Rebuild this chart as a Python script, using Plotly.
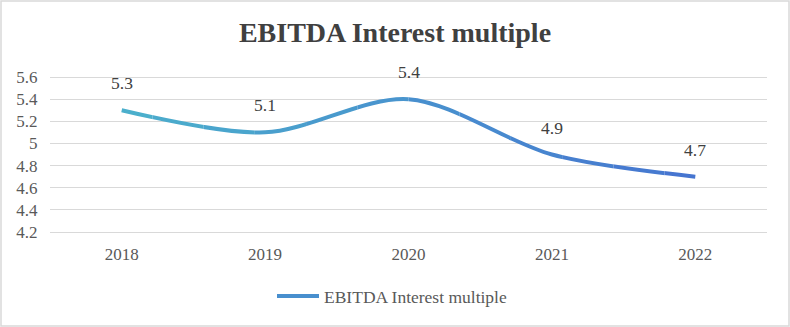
import plotly.graph_objects as go

years = ["2018", "2019", "2020", "2021", "2022"]
values = [5.3, 5.1, 5.4, 4.9, 4.7]
labels = ["5.3", "5.1", "5.4", "4.9", "4.7"]
y_ticks = [4.2, 4.4, 4.6, 4.8, 5.0, 5.2, 5.4, 5.6]
y_tick_text = ["4.2", "4.4", "4.6", "4.8", "5", "5.2", "5.4", "5.6"]

W, H = 790, 327
PAD = 2  # px of extra room so the edge gridlines are drawn
ml, mr, mt, mb = 50, 23, 77 - PAD, 95 - PAD
SERIF = "Liberation Serif"
C_LEFT = (75, 176, 204)
C_RIGHT = (70, 116, 208)
N_SEG = 14

n = len(years)
lo, hi = -0.5, n - 0.5
y0v, y1v = 4.2, 5.6
grid_px = 232 - 77
ext = PAD * (y1v - y0v) / grid_px


def grad(f):
    f = min(max(f, 0.0), 1.0)
    r, g, b = (round(a + (c - a) * f) for a, c in zip(C_LEFT, C_RIGHT))
    return f"rgb({r},{g},{b})"


fig = go.Figure()
fig.add_trace(go.Scatter(x=years, y=values, mode="markers", marker=dict(opacity=0),
                         xaxis="x", yaxis="y", showlegend=False, hoverinfo="skip"))

layout_axes = {}
for k in range(N_SEG):
    d0, d1 = k / N_SEG, (k + 1) / N_SEG
    r0, r1 = lo + (hi - lo) * d0, lo + (hi - lo) * d1
    mid = (r0 + r1) / 2
    col = grad(mid / (n - 1))
    idx = k + 2
    fig.add_trace(go.Scatter(
        x=years, y=values, mode="lines", xaxis=f"x{idx}", yaxis="y",
        name="EBITDA Interest multiple", showlegend=(k == N_SEG // 2), hoverinfo="skip",
        line=dict(color=col, width=4, shape="spline", smoothing=0.9),
    ))
    layout_axes[f"xaxis{idx}"] = dict(type="category", categoryorder="array", categoryarray=years,
                                      domain=[d0, d1], range=[r0, r1], anchor="y",
                                      visible=False, showgrid=False)

ann = []
for i, (yv, t) in enumerate(zip(values, labels)):
    ann.append(dict(x=i, y=yv, xref="x", yref="y", text=t, showarrow=False,
                    yshift=27, xanchor="center", yanchor="middle",
                    font=dict(family=SERIF, size=17.5, color="#404040")))

pw = W - ml - mr
ph = H - mt - mb

fig.update_layout(
    width=W, height=H,
    margin=dict(l=ml, r=mr, t=mt, b=mb),
    paper_bgcolor="white", plot_bgcolor="rgba(0,0,0,0)",
    annotations=ann,
    shapes=[dict(type="rect", xref="paper", yref="paper",
                 x0=-(ml - 1) / pw, x1=1 + (mr - 1) / pw,
                 y0=-(mb - 1) / ph, y1=1 + (mt - 1) / ph,
                 line=dict(color="#D9D9D9", width=1.5), layer="below")],
    title=dict(text="<b>EBITDA Interest multiple</b>", x=0.5, xref="container", xanchor="center",
               y=1 - 32 / H, yref="container", yanchor="middle",
               font=dict(family=SERIF, size=28, color="#404040")),
    font=dict(family=SERIF, size=17, color="#595959"),
    xaxis=dict(type="category", categoryorder="array", categoryarray=years,
               domain=[0, 1], range=[lo, hi], anchor="y", showgrid=False, showline=False,
               zeroline=False, ticks="outside", ticklen=3 + PAD, tickcolor="rgba(0,0,0,0)",
               tickfont=dict(family=SERIF, size=17, color="#595959")),
    yaxis=dict(range=[y0v - ext, y1v + ext], tickvals=y_ticks, ticktext=y_tick_text, anchor="x",
               showgrid=True, gridcolor="#D9D9D9", gridwidth=1, zeroline=False,
               showline=False, ticks="outside", ticklen=8, tickcolor="rgba(0,0,0,0)",
               tickfont=dict(family=SERIF, size=17, color="#595959")),
    showlegend=True,
    legend=dict(orientation="h", x=(392 - ml) / pw, xanchor="center",
                y=-(296 - (H - mb)) / ph, yanchor="middle",
                font=dict(family=SERIF, size=17.5, color="#595959"),
                itemwidth=42),
    **layout_axes,
)

fig.write_html("out.html")
